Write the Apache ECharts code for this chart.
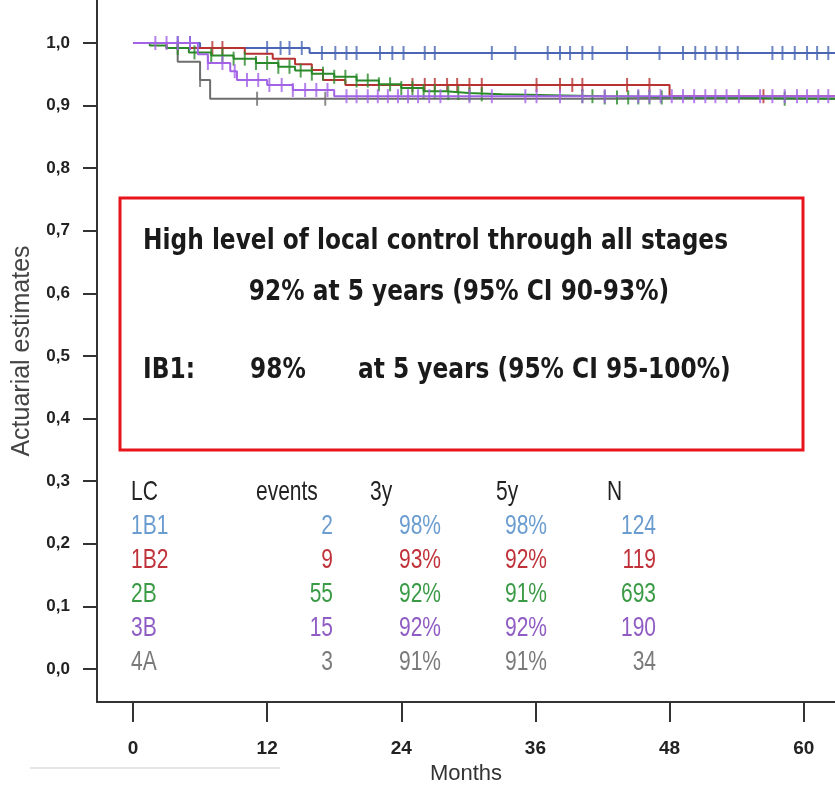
<!DOCTYPE html>
<html><head><meta charset="utf-8">
<script src="https://cdn.jsdelivr.net/npm/echarts@6/dist/echarts.min.js"></script>
<style>html,body{margin:0;padding:0;background:#fff}#c{width:835px;height:790px}</style>
</head><body><div id="c"></div>
<script>
// Axis ticks
const xTicks = [0, 12, 24, 36, 48, 60];
const yTicks = [0, 0.1, 0.2, 0.3, 0.4, 0.5, 0.6, 0.7, 0.8, 0.9, 1.0];
const xEnd = 62.8;

// Kaplan-Meier steps: [month, estimate from that month on]
const steps1B1 = [[0, 1], [6, 0.992], [15.8, 0.984]];
const steps1B2 = [[0, 1], [3, 0.992], [10, 0.983], [12.5, 0.975], [14.5, 0.966], [16, 0.957], [17, 0.941], [19, 0.933], [48, 0.915]];
const steps2B  = [[0, 1], [1.5, 0.996], [3, 0.992], [5, 0.985], [7, 0.980], [9, 0.975], [11, 0.968], [13, 0.962], [14.5, 0.956], [16, 0.951], [18, 0.946], [20, 0.940], [22, 0.934], [24, 0.928], [26, 0.923], [28, 0.920], [30, 0.918], [33, 0.915], [42, 0.913], [50, 0.911]];
const steps3B  = [[0, 1], [5.8, 0.982], [6.7, 0.968], [8.7, 0.955], [9.3, 0.941], [12, 0.933], [14.3, 0.925], [18, 0.915]];
const steps4A  = [[0, 1], [4.0, 0.970], [6.0, 0.941], [6.9, 0.911]];

// Censored observations (months)
const cens1B1 = [4.0, 5.1, 12.0, 13.2, 14.0, 15.1, 16.9, 18.1, 19.1, 20.0, 22.1, 23.2, 24.2, 26.1, 27.0, 32.1, 34.2, 37.1, 38.2, 39.1, 40.2, 41.1, 44.2, 47.1, 49.2, 50.3, 51.2, 52.2, 53.1, 54.1, 57.2, 58.1, 59.2, 60.3, 61.2, 62.2];
const cens1B2 = [7.1, 8.0, 25.0, 26.1, 27.0, 28.1, 29.0, 30.1, 31.2, 36.1, 38.2, 39.3, 40.2, 44.2, 46.2, 56.4];
const cens2B  = [4, 5.5, 7, 8, 9, 10, 11, 12, 13, 14, 15, 16, 17, 18, 19, 20, 21, 22, 23, 24, 25, 26, 27, 28.2, 29.1, 30.1, 31.2, 40.2, 41.1, 42.2, 43.3, 44.3, 45.2, 46.2, 47.3, 58.3];
const cens3B  = [2.0, 3.0, 4.0, 5.1, 6.7, 8.0, 9.1, 10.2, 11.2, 12.2, 13.3, 14.3, 15.4, 16.4, 17.4, 19.1, 20.0, 21.0, 21.9, 22.8, 23.7, 24.6, 25.5, 26.5, 27.5, 30.1, 32.1, 35.1, 36.1, 38.2, 40.2, 42.2, 45.2, 46.2, 47.2, 48.2, 49.2, 50.2, 51.2, 52.1, 53.1, 54.2, 56.1, 57.2, 58.3, 59.4, 60.3, 61.3, 62.2];
const cens4A  = [6.0, 11.1, 17.2];

// Table
const groups = ['1B1', '1B2', '2B', '3B', '4A'];
const events = ['2', '9', '55', '15', '3'];
const y3 = ['98%', '93%', '92%', '92%', '91%'];
const y5 = ['98%', '92%', '91%', '92%', '91%'];
const nPat = ['124', '119', '693', '190', '34'];
const headers = ['LC', 'events', '3y', '5y', 'N'];

// Box texts
const boxLine1 = 'High level of local control through all stages';
const boxLine2 = '92% at 5 years (95% CI 90-93%)';
const boxLine3 = ['IB1:', '98%', 'at 5 years (95% CI 95-100%)'];

const lineColors = ['#6e6e6e', '#4a66b5', '#b83232', '#2a8a2a', '#a263e6'];
const tableColors = ['#6a9cd0', '#c0323a', '#3a9a45', '#8f5cc4', '#7a7a7a'];

function valueAt(steps, t) {
  let v = steps[0][1];
  for (const s of steps) { if (s[0] <= t) v = s[1]; }
  return v;
}
function lineData(steps) {
  return steps.concat([[xEnd, steps[steps.length - 1][1]]]);
}

const curves = [
  {steps: steps4A, cens: cens4A, color: lineColors[0]},
  {steps: steps1B1, cens: cens1B1, color: lineColors[1]},
  {steps: steps1B2, cens: cens1B2, color: lineColors[2]},
  {steps: steps2B, cens: cens2B, color: lineColors[3]},
  {steps: steps3B, cens: cens3B, color: lineColors[4]}
];

const series = [];
curves.forEach((c, i) => {
  series.push({type: 'line', step: 'end', data: lineData(c.steps), showSymbol: false, silent: true,
    lineStyle: {color: c.color, width: 2}, z: 2 + i});
  series.push({type: 'scatter', data: c.cens.map(t => [t, valueAt(c.steps, t)]), symbol: 'rect',
    symbolSize: [2, 14], itemStyle: {color: c.color}, silent: true, z: 2 + i});
});

const mctx = document.createElement('canvas').getContext('2d');
function textW(t, f) { mctx.font = f; return mctx.measureText(t).width; }

const graphic = [];
// Red box
graphic.push({type: 'rect', shape: {x: 120, y: 198, width: 683, height: 252},
  style: {fill: 'none', stroke: '#e8141c', lineWidth: 3}, z: 10});
const boxFont = 'bold 28px "DejaVu Sans", sans-serif';
const bs = 585 / textW(boxLine1, boxFont);
function boxText(t, x, y, align) {
  graphic.push({type: 'text', x, y, scaleX: bs, z: 10,
    style: {text: t, font: boxFont, fill: '#1a1a1a', textAlign: align || 'left', textVerticalAlign: 'middle'}});
}
boxText(boxLine1, 143, 242);
boxText(boxLine2, 459, 293, 'center');
boxText(boxLine3[0], 143, 371);
boxText(boxLine3[1], 250, 371);
boxText(boxLine3[2], 358, 371);

// Table
const tFont = '28px "Liberation Sans", Arial, sans-serif';
const ts = 0.75;
const colX = [131, 256, 370, 496, 607];
const rowY0 = 492, rowDy = 34;
headers.forEach((h, j) => {
  graphic.push({type: 'text', x: colX[j], y: rowY0, scaleX: ts, style: {text: h, font: tFont, fill: '#222', textVerticalAlign: 'middle'}});
});
const valX = [333, 441, 547, 656];
groups.forEach((g, i) => {
  const y = rowY0 + rowDy * (i + 1);
  const col = tableColors[i];
  graphic.push({type: 'text', x: 131, y, scaleX: ts, style: {text: g, font: tFont, fill: col, textVerticalAlign: 'middle'}});
  [events[i], y3[i], y5[i], nPat[i]].forEach((v, j) => {
    graphic.push({type: 'text', x: valX[j], y, scaleX: ts, style: {text: v, font: tFont, fill: col, textAlign: 'right', textVerticalAlign: 'middle'}});
  });
});
// faint artifact line bottom-left
graphic.push({type: 'line', shape: {x1: 30, y1: 768, x2: 280, y2: 768}, style: {stroke: '#e6e6e6', lineWidth: 2}});

const fam = '"Liberation Sans", Arial, sans-serif';
const chart = echarts.init(document.getElementById('c'), null, {renderer: 'canvas'});
chart.setOption({
  animation: false,
  backgroundColor: '#fff',
  grid: {left: 97, right: 0, top: 0, bottom: 88, containLabel: false, outerBoundsMode: 'none'},
  xAxis: {
    type: 'value', min: -3.22, max: xEnd,
    name: 'Months', nameLocation: 'middle', nameGap: 61,
    nameTextStyle: {fontSize: 22, color: '#333', fontFamily: fam},
    axisLine: {show: true, onZero: false, lineStyle: {color: '#333', width: 2}},
    axisTick: {show: true, length: 20, customValues: xTicks, lineStyle: {color: '#333', width: 2}},
    axisLabel: {customValues: xTicks, margin: 37, fontSize: 19, fontWeight: 'bold', color: '#222', fontFamily: fam},
    splitLine: {show: false}
  },
  yAxis: {
    type: 'value', min: -0.0527, max: 1.0687,
    name: 'Actuarial estimates', nameLocation: 'middle', nameGap: 62, nameRotate: 90,
    nameTextStyle: {fontSize: 25, color: '#444', fontFamily: fam},
    axisLine: {show: true, onZero: false, lineStyle: {color: '#333', width: 2}},
    axisTick: {show: true, length: 14, customValues: yTicks, lineStyle: {color: '#333', width: 2}},
    axisLabel: {customValues: yTicks, margin: 27, fontSize: 17, fontWeight: 'bold', color: '#222', fontFamily: fam,
      formatter: v => v.toFixed(1).replace('.', ',')},
    splitLine: {show: false}
  },
  series,
  graphic
});
</script></body></html>
